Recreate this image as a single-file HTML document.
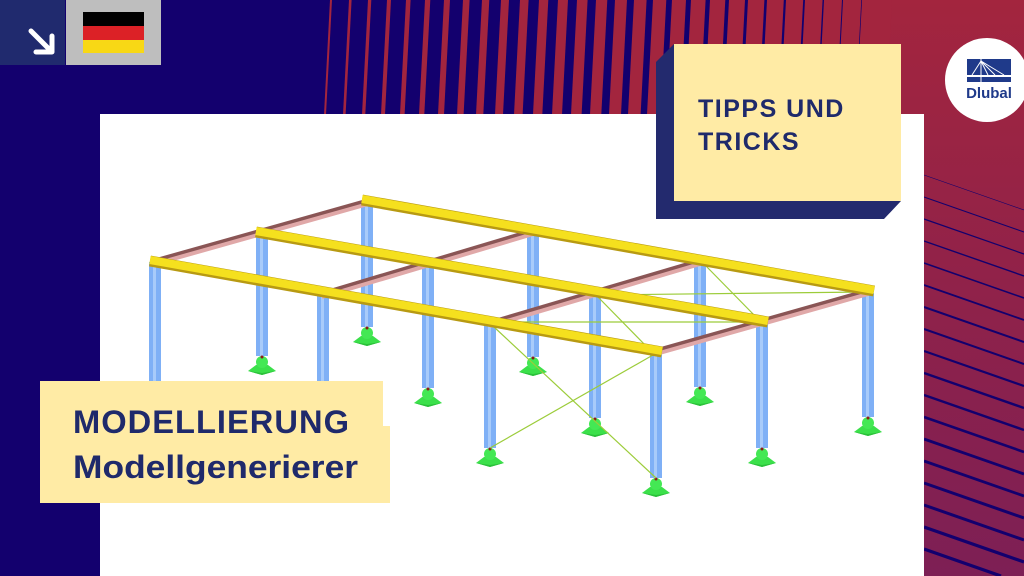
<!DOCTYPE html>
<html><head><meta charset="utf-8"><style>
html,body{margin:0;padding:0;width:1024px;height:576px;overflow:hidden;background:#13006e}
svg{display:block;overflow:hidden}
.t{font-family:"Liberation Sans",sans-serif;font-weight:bold;fill:#1f2a6b}
</style></head><body>
<svg width="1024" height="576" viewBox="0 0 1024 576" xmlns="http://www.w3.org/2000/svg">
<defs>
<linearGradient id="rg" x1="0" y1="0" x2="0" y2="1">
<stop offset="0" stop-color="#a3253e"/><stop offset="1" stop-color="#7d1f55"/>
</linearGradient>
<g id="sup">
<polygon points="-14,15 -6,9 6,9 14,15 0,19" fill="#3be04a"/>
<polygon points="-14,15 0,19 14,15 0,17" fill="#2bc03a"/>
<circle cx="0" cy="6" r="6" fill="#44e854"/>
<circle cx="0" cy="1" r="1.5" fill="#8b1a1a"/>
</g>
</defs>
<rect width="1024" height="576" fill="#13006e"/>
<rect x="880" y="0" width="144" height="576" fill="url(#rg)"/>
<g fill="#a3253e" transform="skewX(-3)">
<rect x="330" y="0" width="2" height="120"/><rect x="349" y="0" width="2.6" height="120"/>
<rect x="368" y="0" width="3.3" height="120"/><rect x="387" y="0" width="4" height="120"/>
<rect x="406" y="0" width="4.6" height="120"/><rect x="425" y="0" width="5.3" height="120"/>
<rect x="444" y="0" width="6" height="120"/><rect x="463" y="0" width="6.6" height="120"/>
<rect x="482" y="0" width="7.3" height="120"/><rect x="501" y="0" width="8" height="120"/>
<rect x="520" y="0" width="8.6" height="120"/><rect x="539" y="0" width="9.3" height="120"/>
<rect x="558" y="0" width="10" height="120"/><rect x="577" y="0" width="10.6" height="120"/>
<rect x="596" y="0" width="11.3" height="120"/><rect x="615" y="0" width="12" height="120"/>
<rect x="634" y="0" width="12.6" height="120"/><rect x="653" y="0" width="13.3" height="120"/>
<rect x="672" y="0" width="14" height="120"/><rect x="691" y="0" width="14.6" height="120"/>
<rect x="710" y="0" width="15.3" height="120"/><rect x="729" y="0" width="16" height="120"/>
<rect x="748" y="0" width="16.4" height="120"/><rect x="767" y="0" width="16.8" height="120"/>
<rect x="786" y="0" width="17.2" height="120"/><rect x="805" y="0" width="17.6" height="120"/>
<rect x="824" y="0" width="18" height="120"/><rect x="843" y="0" width="18.3" height="120"/>
<rect x="862" y="0" width="30" height="120"/>
</g>
<g stroke="#13006e" fill="none">
<line x1="924" y1="175" x2="1024" y2="210" stroke-width="0.6"/>
<line x1="924" y1="197" x2="1024" y2="232" stroke-width="1"/>
<line x1="924" y1="219" x2="1024" y2="254" stroke-width="1.2"/>
<line x1="924" y1="241" x2="1024" y2="276" stroke-width="1.4"/>
<line x1="924" y1="263" x2="1024" y2="298" stroke-width="1.6"/>
<line x1="924" y1="285" x2="1024" y2="320" stroke-width="1.8"/>
<line x1="924" y1="307" x2="1024" y2="342" stroke-width="2"/>
<line x1="924" y1="329" x2="1024" y2="364" stroke-width="2"/>
<line x1="924" y1="351" x2="1024" y2="386" stroke-width="2.2"/>
<line x1="924" y1="373" x2="1024" y2="408" stroke-width="2.4"/>
<line x1="924" y1="395" x2="1024" y2="430" stroke-width="2.4"/>
<line x1="924" y1="417" x2="1024" y2="452" stroke-width="2.6"/>
<line x1="924" y1="439" x2="1024" y2="474" stroke-width="2.8"/>
<line x1="924" y1="461" x2="1024" y2="496" stroke-width="2.8"/>
<line x1="924" y1="483" x2="1024" y2="518" stroke-width="3"/>
<line x1="924" y1="505" x2="1024" y2="540" stroke-width="3"/>
<line x1="924" y1="527" x2="1024" y2="562" stroke-width="3.2"/>
<line x1="924" y1="549" x2="1001" y2="576" stroke-width="3.2"/>
</g>
<rect x="100" y="114" width="824" height="462" fill="#fff"/>
<rect x="0" y="0" width="65" height="65" fill="#202a6e"/>
<g stroke="#fff" stroke-width="5" stroke-linecap="round" stroke-linejoin="round" fill="none">
<line x1="31" y1="31" x2="50" y2="50"/><polyline points="36,52 52,52 52,36"/>
</g>
<rect x="66" y="0" width="95" height="65" fill="#bebebe"/>
<rect x="83" y="12" width="61" height="14" fill="#000"/>
<rect x="83" y="26" width="61" height="14" fill="#dc2126"/>
<rect x="83" y="40" width="61" height="13" fill="#f8d815"/>
<circle cx="987" cy="80" r="42" fill="#fff"/>
<rect x="967" y="59" width="44" height="16" fill="#1f3a8a"/>
<rect x="967" y="77" width="44" height="5" fill="#1f3a8a"/>
<g stroke="#fff" stroke-width="1" fill="none"><line x1="981" y1="59" x2="981" y2="82"/><line x1="981" y1="61" x2="972" y2="75"/><line x1="981" y1="61" x2="1004" y2="75"/><line x1="981" y1="61" x2="995" y2="75"/><line x1="981" y1="61" x2="988" y2="75"/></g>
<text x="989" y="98" text-anchor="middle" font-family="Liberation Sans,sans-serif" font-weight="bold" font-size="15" fill="#1f3a8a">Dlubal</text>
<g fill="#7fb0f6">
<rect x="149" y="262" width="12" height="125"/><rect x="317" y="296" width="12" height="125"/>
<rect x="484" y="325" width="12" height="123"/><rect x="650" y="352" width="12" height="126"/>
<rect x="256" y="234" width="12" height="122"/><rect x="422" y="265" width="12" height="123"/>
<rect x="589" y="294" width="12" height="124"/><rect x="756" y="322" width="12" height="126"/>
<rect x="361" y="203" width="12" height="124"/><rect x="527" y="233" width="12" height="124"/>
<rect x="694" y="263" width="12" height="124"/><rect x="862" y="293" width="12" height="124"/>
</g>
<g fill="#a8cbfa">
<rect x="153" y="262" width="3" height="125"/><rect x="321" y="296" width="3" height="125"/>
<rect x="488" y="325" width="3" height="123"/><rect x="654" y="352" width="3" height="126"/>
<rect x="260" y="234" width="3" height="122"/><rect x="426" y="265" width="3" height="123"/>
<rect x="593" y="294" width="3" height="124"/><rect x="760" y="322" width="3" height="126"/>
<rect x="365" y="203" width="3" height="124"/><rect x="531" y="233" width="3" height="124"/>
<rect x="698" y="263" width="3" height="124"/><rect x="866" y="293" width="3" height="124"/>
</g>
<use href="#sup" x="262" y="356"/><use href="#sup" x="428" y="388"/><use href="#sup" x="595" y="418"/><use href="#sup" x="762" y="448"/>
<use href="#sup" x="367" y="327"/><use href="#sup" x="533" y="357"/><use href="#sup" x="700" y="387"/><use href="#sup" x="868" y="417"/>
<use href="#sup" x="490" y="448"/><use href="#sup" x="656" y="478"/>
<g stroke="#9ccc3a" stroke-width="1.2">
<line x1="494" y1="327" x2="656" y2="478"/><line x1="653" y1="355" x2="490" y2="448"/>
<line x1="597" y1="295" x2="866" y2="292"/><line x1="705" y1="265" x2="757" y2="318"/>
<line x1="598" y1="297" x2="650" y2="350"/><line x1="494" y1="322" x2="760" y2="322"/>
</g>
<g stroke-linecap="butt">
<g stroke="#8a5555" stroke-width="7">
<line x1="155" y1="262" x2="368" y2="202"/><line x1="322" y1="295" x2="533" y2="232"/>
<line x1="490" y1="324" x2="700" y2="262"/><line x1="656" y1="352" x2="868" y2="292"/>
</g>
<g stroke="#e0a8a8" stroke-width="4">
<line x1="155" y1="264" x2="368" y2="204"/><line x1="322" y1="297" x2="533" y2="234"/>
<line x1="490" y1="326" x2="700" y2="264"/><line x1="656" y1="354" x2="868" y2="294"/>
</g>
<g stroke="#b89a12" stroke-width="11">
<line x1="150" y1="261" x2="662" y2="352"/><line x1="256" y1="232" x2="768" y2="322"/><line x1="362" y1="200" x2="874" y2="291"/>
</g>
<g stroke="#f5e01e" stroke-width="8">
<line x1="150" y1="260" x2="662" y2="351"/><line x1="256" y1="231" x2="768" y2="321"/><line x1="362" y1="199" x2="874" y2="290"/>
</g>
</g>
<polygon points="674,44 656,62 656,219 884,219 901,201 674,201" fill="#232a6e"/>
<rect x="674" y="44" width="227" height="157" fill="#ffeba5"/>
<text class="t" x="698" y="117" font-size="25" letter-spacing="1.5">TIPPS UND</text>
<text class="t" x="698" y="150" font-size="25" letter-spacing="1.5">TRICKS</text>
<rect x="40" y="381" width="343" height="122" fill="#ffeba5"/>
<rect x="300" y="426" width="90" height="77" fill="#ffeba5"/>
<text class="t" x="73" y="433" font-size="32" letter-spacing="1" textLength="277" lengthAdjust="spacingAndGlyphs">MODELLIERUNG</text>
<text class="t" x="73" y="478" font-size="32" textLength="285" lengthAdjust="spacingAndGlyphs">Modellgenerierer</text>
</svg>
</body></html>
